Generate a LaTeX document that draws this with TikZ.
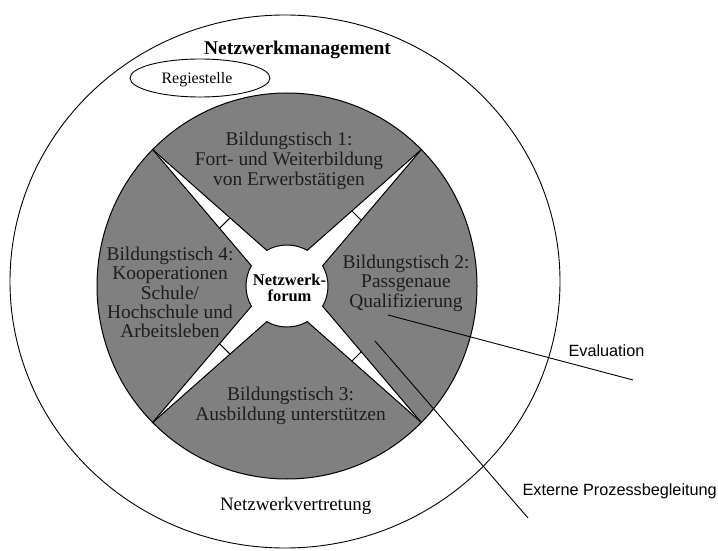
\documentclass[tikz,border=0pt]{standalone}
\usepackage{fontspec}
\setmainfont{Liberation Serif}
\newfontfamily\sansfont{Liberation Sans}
\usetikzlibrary{calc}
\definecolor{sectorgray}{HTML}{808080}
\definecolor{tabletextcol}{HTML}{1E1E1E}
\begin{document}
\begin{tikzpicture}[x=1bp,y=-1bp,line width=0.9bp,
  sector/.style={fill=sectorgray,draw=black,line width=1bp},
  tabletext/.style={font=\fontsize{19.5}{20}\selectfont,text=tabletextcol,align=center,inner sep=0pt},
  plainlabel/.style={inner sep=0pt,anchor=base},
  sanslabel/.style={inner sep=0pt,anchor=base,font=\sansfont\fontsize{16.3}{18}\selectfont}]
\useasboundingbox (0,0) rectangle (718,551);
% outer ellipse
\draw (285,281.5) ellipse [x radius=275, y radius=266.5];
% Regiestelle ellipse
\draw (200,78) ellipse [x radius=70, y radius=19];
% sectors
\begin{scope}[shift={(287,286)}]
\foreach \p in {270,0,90,180}{
  \draw[sector] ({\p-45}:190 and 193)
    arc[start angle={\p-45}, end angle={\p+45}, x radius=190, y radius=193]
    -- ({\p+29.6}:41)
    arc[start angle={\p+29.6}, end angle={\p-29.6}, radius=41]
    -- cycle;
}
\foreach \t/\d/\dd in {225/88.8/4.77, 315/99.2/3.84, 135/88.8/4.77, 45/99.2/3.84}{
  \draw[line width=1bp] ({\t-\dd}:\d) -- ({\t+\dd}:\d);
}
\end{scope}
% texts
\node[plainlabel,font=\bfseries\fontsize{19.5}{20}\selectfont] (mgmt) at (297.5,55) {Netzwerkmanagement};
\node[plainlabel,font=\fontsize{16}{17}\selectfont] (regie) at (197,83.5) {Regiestelle};
\node[tabletext] (bt1) at (289,161) {Bildungstisch 1:\\Fort- und Weiterbildung\\von Erwerbstätigen};
\node[tabletext] (bt2) at (406,283.3) {Bildungstisch 2:\\Passgenaue\\Qualifizierung};
\node[tabletext] (bt3) at (290.5,405.6) {Bildungstisch 3:\\Ausbildung unterstützen};
\node[tabletext,font=\fontsize{19.5}{19.3}\selectfont] (bt4) at (170,292.4) {Bildungstisch 4:\\Kooperationen\\Schule/\\Hochschule und\\Arbeitsleben};
\node[inner sep=0pt,align=center,font=\bfseries\fontsize{16.5}{16}\selectfont] (forum) at (289.5,287.6) {Netzwerk-\\forum};
\node[plainlabel,font=\fontsize{19}{20}\selectfont] (vertr) at (295.7,510) {Netzwerkvertretung};
\node[sanslabel] (eval) at (606.5,356) {Evaluation};
\node[sanslabel] (ext) at (619.7,495.7) {Externe Prozessbegleitung};
% lines
\coordinate (e1) at (388,315);
\coordinate (e2) at (633,380);
\coordinate (x1) at (375,341);
\coordinate (x2) at (528,518);
\draw (e1) -- (e2);
\draw (x1) -- (x2);
\end{tikzpicture}
\end{document}
